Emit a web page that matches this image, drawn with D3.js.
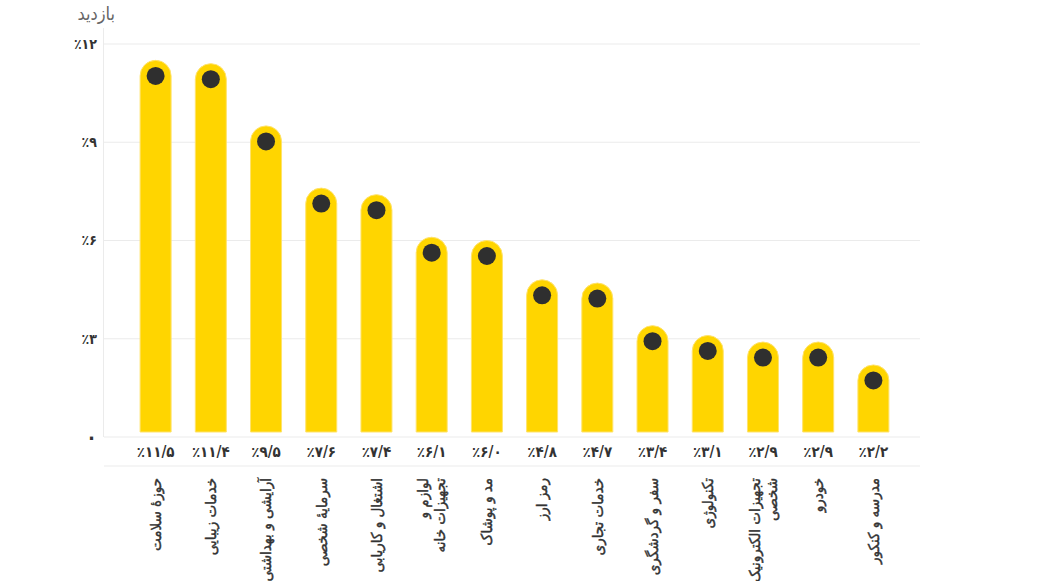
<!DOCTYPE html>
<html>
<head>
<meta charset="utf-8">
<script src="https://cdn.jsdelivr.net/npm/d3@7"></script>
<style>
  body { margin: 0; background: #fff; }
  svg { display: block; font-family: "DejaVu Sans Condensed", "DejaVu Sans", sans-serif; }
</style>
</head>
<body>
<svg id="chart" width="1060" height="581"></svg>
<script>
// Categories (each entry is a list of lines for the rotated label)
const categories = [
  ["حوزهٔ سلامت"],
  ["خدمات زیبایی"],
  ["آرایشی و بهداشتی"],
  ["سرمایهٔ شخصی"],
  ["اشتغال و کاریابی"],
  ["لوازم و", "تجهیزات خانه"],
  ["مد و پوشاک"],
  ["رمز ارز"],
  ["خدمات تجاری"],
  ["سفر و گردشگری"],
  ["تکنولوژی"],
  ["تجهیزات الکترونیک", "شخصی"],
  ["خودرو"],
  ["مدرسه و کنکور"]
];
// Share of visits, percent
const values = [11.5, 11.4, 9.5, 7.6, 7.4, 6.1, 6.0, 4.8, 4.7, 3.4, 3.1, 2.9, 2.9, 2.2];
const yTicks = [0, 3, 6, 9, 12];
const yTitle = "بازدید";

const BAR_W = 31;
const DOT_R = 9;

// latin digits -> persian digits, "." -> "/"
const fa = (v) => String(v).replace(/[0-9]/g, (d) => "۰۱۲۳۴۵۶۷۸۹"[+d]).replace(".", "/");
const pct = (v) => (v === 0 ? fa(0) : "٪" + fa(v));

const svg = d3.select("#chart");

const x = d3.scalePoint()
  .domain(d3.range(categories.length))
  .range([128, 901])
  .padding(0.5);

const y = d3.scaleLinear().domain([0, 12]).range([437, 44]);

// grid lines
svg.append("g")
  .selectAll("line")
  .data(yTicks)
  .enter()
  .append("line")
  .attr("x1", 104)
  .attr("x2", 920)
  .attr("y1", (d) => y(d))
  .attr("y2", (d) => y(d))
  .attr("stroke", "#ebebeb")
  .attr("stroke-width", 1);

// line under the value row
svg.append("line")
  .attr("x1", 104).attr("x2", 920)
  .attr("y1", 466).attr("y2", 466)
  .attr("stroke", "#ebebeb");

// vertical axis line
svg.append("line")
  .attr("x1", 103.5).attr("x2", 103.5)
  .attr("y1", 28).attr("y2", y(0))
  .attr("stroke", "#ebebeb");

// y tick labels
svg.append("g")
  .selectAll("text")
  .data(yTicks)
  .enter()
  .append("text")
  .attr("x", 97)
  .attr("y", (d) => y(d))
  .attr("dy", "0.35em")
  .attr("text-anchor", "end")
  .attr("font-size", (d) => (d === 0 ? 20 : 14))
  .attr("font-weight", "bold")
  .attr("fill", "#333")
  .text((d) => pct(d));

// axis title
svg.append("text")
  .attr("x", 115)
  .attr("y", 14)
  .attr("dy", "0.35em")
  .attr("text-anchor", "end")
  .attr("font-size", 18)
  .attr("fill", "#666")
  .text(yTitle);

// bars: flat bottom, round top
const barPath = (i) => {
  const cx = x(i);
  const top = y(values[i]);
  const r = BAR_W / 2;
  const bottom = 432;
  return `M${cx - r},${bottom} L${cx - r},${top + r} A${r},${r} 0 0 1 ${cx + r},${top + r} L${cx + r},${bottom} Z`;
};

svg.append("g")
  .selectAll("path")
  .data(values)
  .enter()
  .append("path")
  .attr("d", (d, i) => barPath(i))
  .attr("fill", "#ffd500")
  .attr("stroke", "#ffe36b")
  .attr("stroke-width", 1);

// dots at the centre of the round cap
svg.append("g")
  .selectAll("circle")
  .data(values)
  .enter()
  .append("circle")
  .attr("cx", (d, i) => x(i))
  .attr("cy", (d) => y(d) + BAR_W / 2)
  .attr("r", DOT_R)
  .attr("fill", "#2f2f2f");

// value labels
svg.append("g")
  .selectAll("text")
  .data(values)
  .enter()
  .append("text")
  .attr("x", (d, i) => x(i))
  .attr("y", 452)
  .attr("dy", "0.35em")
  .attr("text-anchor", "middle")
  .attr("font-size", 15)
  .attr("font-weight", "bold")
  .attr("fill", "#333")
  .text((d) => pct(d.toFixed(1)));

// rotated category labels
const labels = svg.append("g")
  .selectAll("text")
  .data(categories)
  .enter()
  .append("text")
  .attr("transform", (d, i) => `translate(${x(i)},478) rotate(-90)`)
  .attr("text-anchor", "end")
  .attr("font-size", 15)
  .attr("fill", "#333")
  .attr("stroke", "#333")
  .attr("stroke-width", 0.4);

labels.each(function (lines) {
  const t = d3.select(this);
  const lh = 17;
  const start = -((lines.length - 1) * lh) / 2;
  lines.forEach((line, k) => {
    t.append("tspan")
      .attr("x", 0)
      .attr("y", start + k * lh)
      .attr("dy", "0.35em")
      .text(line);
  });
});
</script>
</body>
</html>
